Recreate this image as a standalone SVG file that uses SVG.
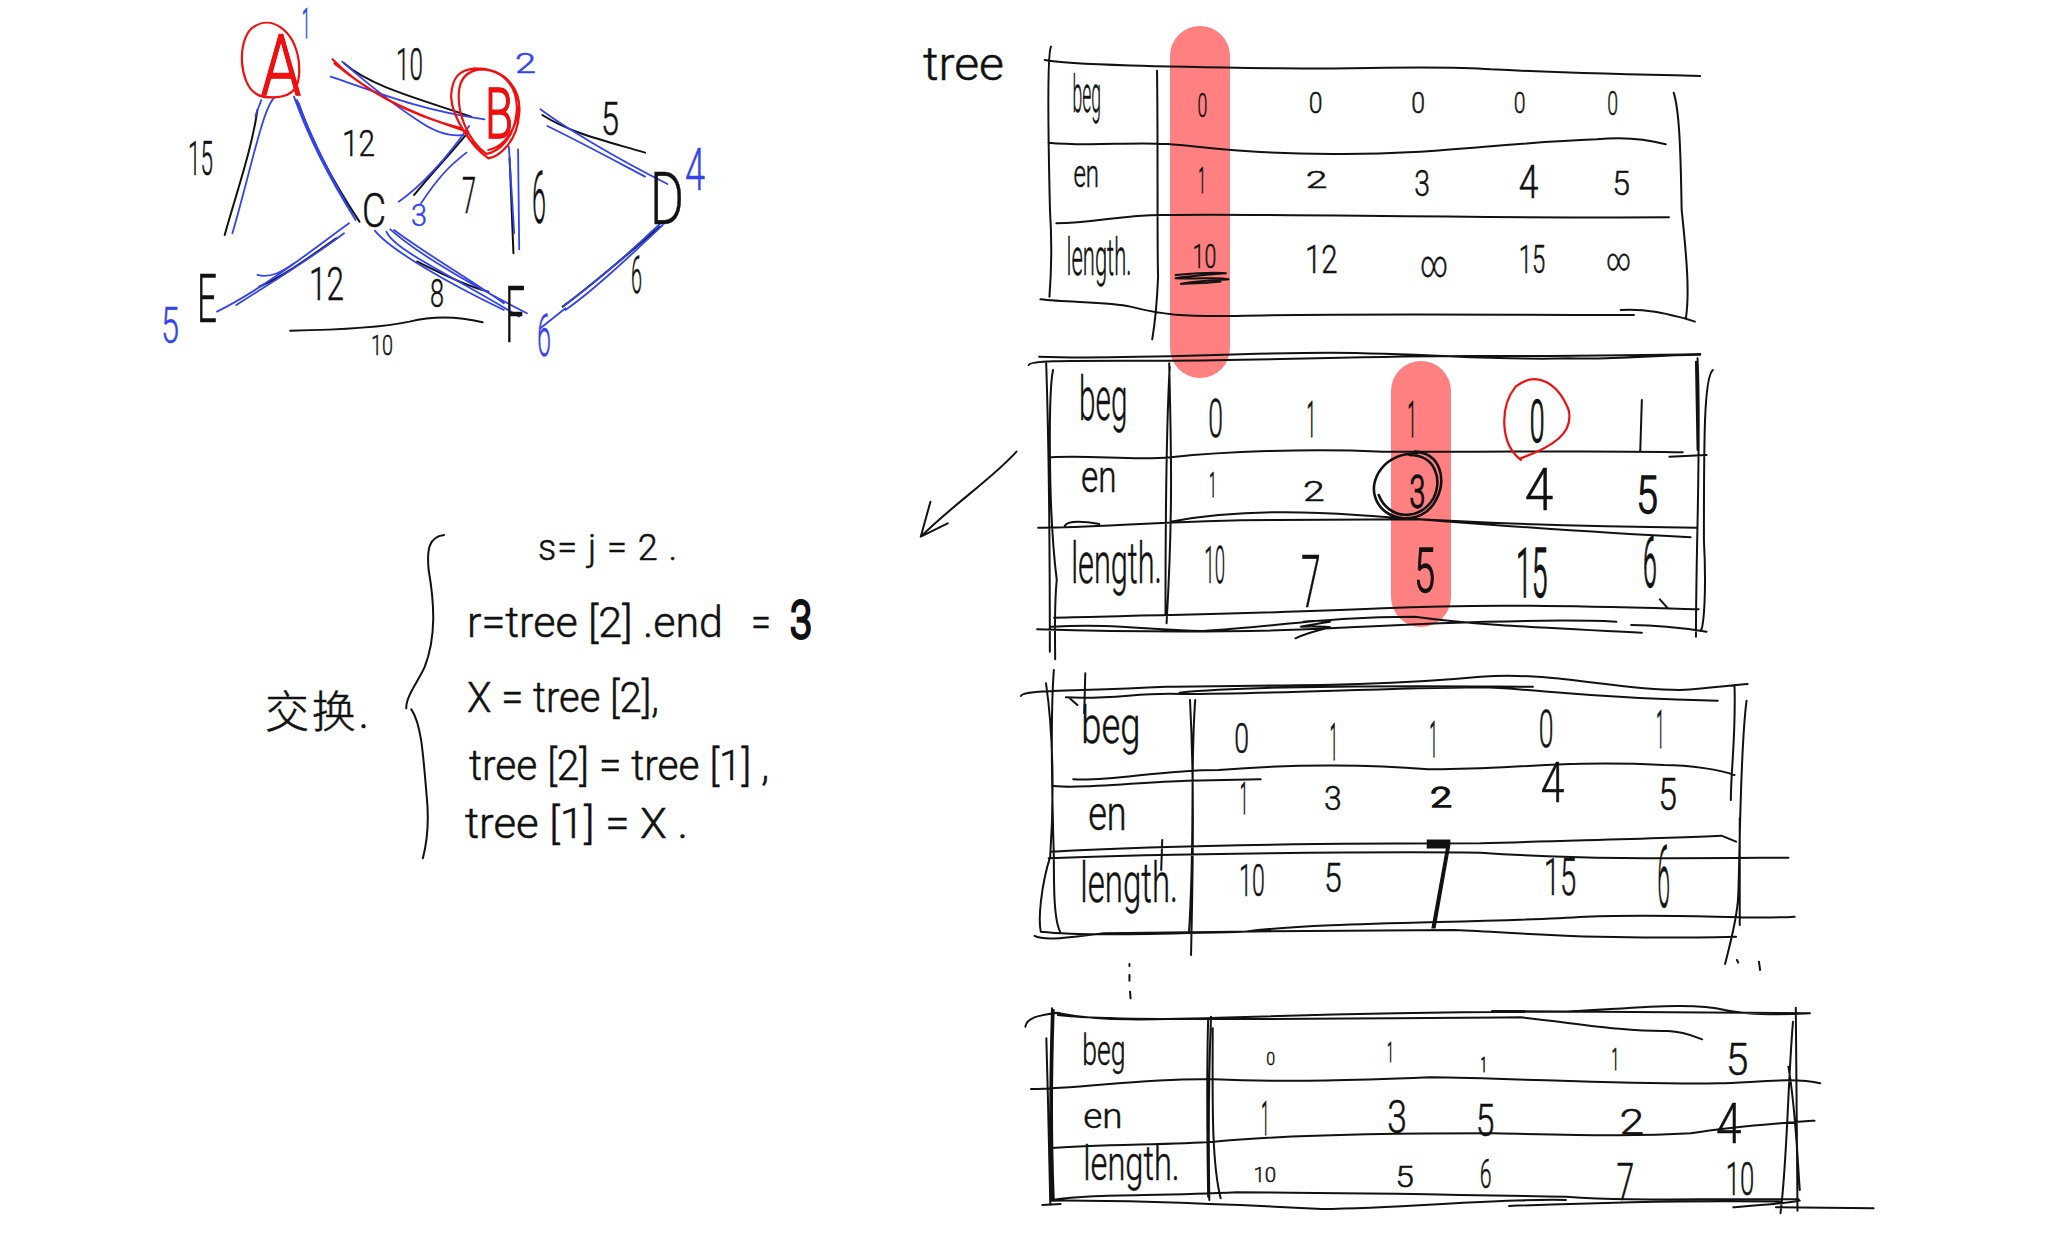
<svg xmlns="http://www.w3.org/2000/svg" width="2048" height="1235" viewBox="0 0 2048 1235">
<style>
path{fill:none;stroke-linecap:round;stroke-linejoin:round;vector-effect:non-scaling-stroke}
.k{stroke:#111;stroke-width:2}
.kt{stroke:#111;stroke-width:2.6}
.b{stroke:#3344ee;stroke-width:1.8}
.r{stroke:#f01010;stroke-width:2.2}
.hl{fill:#ff8080;stroke:none}
text{font-family:Roboto,"Noto Sans","Noto Sans CJK SC",sans-serif;font-weight:300;fill:#111;stroke:#111;stroke-width:.5;text-anchor:start}
.tb{fill:#3344ee;stroke:#3344ee}
.tr{fill:#f01010;stroke:#f01010;stroke-width:1.6}
.o{stroke-width:1.1}
.bo{stroke-width:1.4}
.bb{stroke-width:3}
</style>
<rect width="2048" height="1235" fill="#fff"/>
<g id="highlights">
<rect class="hl" x="1170" y="26" width="60" height="352" rx="30" ry="30"/>
<rect class="hl" x="1391" y="361" width="60" height="266" rx="30" ry="30"/>
</g>
<g id="connectors">
<g transform="translate(140,0) scale(.385,.3333)">
<path class="k" d="M305,330C290,450 250,580 220,705M412,310C450,440 510,560 570,665M530,190C600,260 720,295 860,350M850,400C800,470 750,530 712,585M960,475L970,760M1045,345C1120,400 1200,420 1312,458M1350,680C1280,750 1180,850 1098,920M510,715C430,780 370,830 310,860M720,785C780,820 850,860 905,875M390,992C500,990 620,985 700,965C770,945 830,950 890,967"/>
<path class="b" d="M350,292C320,320 290,500 240,700M315,300C310,320 300,340 300,350M400,290C440,420 500,550 560,660M408,300C450,430 510,560 555,650M525,185C560,220 640,300 720,360C770,400 810,410 840,405M495,230C600,270 720,330 895,358M855,378C800,470 730,560 672,605M848,458C800,500 770,540 730,610M958,440L972,700M982,448L985,748M1040,328C1100,380 1230,470 1370,552M1058,378C1150,430 1230,480 1312,530M1358,675C1280,760 1180,870 1105,930M1350,672C1270,760 1180,850 1100,918M1105,925L1040,985M543,670C470,730 330,860 200,935M530,700C450,770 340,850 250,915M305,825C340,835 370,815 400,790M650,688C720,760 870,860 1005,940M640,695C660,750 800,820 985,950M610,692C650,750 800,850 945,930M660,690C740,760 860,840 945,910"/>
<path class="r" d="M500,178C560,250 650,320 850,395M505,190C580,260 680,340 835,385"/>
</g>
</g>
<g id="graph-nodes">
<g id="node-A">
<text x="261" y="95" font-size="86" textLength="40" lengthAdjust="spacingAndGlyphs">A</text>
<text class="tr" x="261" y="95" font-size="86" textLength="40" lengthAdjust="spacingAndGlyphs">A</text>
<path class="r" transform="translate(140,0) scale(.385,.3333)" d="M300,280C260,250 250,130 290,85C340,40 400,90 412,180C420,260 400,290 350,292C330,292 310,292 300,280"/>
</g>
<g id="node-B">
<text x="485" y="138" font-size="70" textLength="28" lengthAdjust="spacingAndGlyphs">B</text>
<text class="tr" x="485" y="138" font-size="70" textLength="28" lengthAdjust="spacingAndGlyphs">B</text>
<path class="r" transform="translate(140,0) scale(.385,.3333)" d="M870,205C960,205 990,280 985,340C980,430 930,470 905,475C860,440 810,350 808,290C810,230 830,210 870,205M885,208C950,210 985,270 978,340C970,420 930,455 900,462C850,420 825,340 828,280C830,235 850,212 885,208M905,450C950,440 980,380 983,320"/>
</g>
<g id="node-C"><text x="362" y="227" font-size="48" textLength="24" lengthAdjust="spacingAndGlyphs">C</text></g>
<g id="node-D"><text x="650" y="224" font-size="72" textLength="34" lengthAdjust="spacingAndGlyphs">D</text></g>
<g id="node-E"><text x="197" y="322" font-size="66" textLength="20" lengthAdjust="spacingAndGlyphs">E</text></g>
<g id="node-F"><text x="505" y="342" font-size="78" textLength="20" lengthAdjust="spacingAndGlyphs">F</text></g>
</g>
<g id="edge-labels">
<text x="396" y="80" font-size="44" textLength="27" lengthAdjust="spacingAndGlyphs">10</text>
<text x="188" y="175" font-size="48" textLength="25" lengthAdjust="spacingAndGlyphs">15</text>
<text x="342" y="156" font-size="36" textLength="33" lengthAdjust="spacingAndGlyphs">12</text>
<text x="462" y="213" font-size="50" textLength="14" lengthAdjust="spacingAndGlyphs">7</text>
<text x="532" y="223" font-size="72" textLength="14" lengthAdjust="spacingAndGlyphs">6</text>
<text x="601" y="135" font-size="46" textLength="18" lengthAdjust="spacingAndGlyphs">5</text>
<text x="309" y="300" font-size="46" textLength="35" lengthAdjust="spacingAndGlyphs">12</text>
<text x="430" y="307" font-size="38" textLength="14" lengthAdjust="spacingAndGlyphs">8</text>
<text x="371" y="355" font-size="28" textLength="22" lengthAdjust="spacingAndGlyphs">10</text>
<text x="631" y="293" font-size="52" textLength="11" lengthAdjust="spacingAndGlyphs">6</text>
<text class="tb o" x="302" y="38" font-size="42" textLength="8" lengthAdjust="spacingAndGlyphs">1</text>
<text class="tb" x="515" y="73" font-size="28" textLength="21" lengthAdjust="spacingAndGlyphs">2</text>
<text class="tb" x="411" y="226" font-size="32" textLength="16" lengthAdjust="spacingAndGlyphs">3</text>
<text class="tb" x="685" y="190" font-size="60" textLength="20" lengthAdjust="spacingAndGlyphs">4</text>
<text class="tb" x="161" y="343" font-size="50" textLength="18" lengthAdjust="spacingAndGlyphs">5</text>
<text class="tb" x="537" y="356" font-size="60" textLength="14" lengthAdjust="spacingAndGlyphs">6</text>
</g>
<g id="swap-notes">
<path class="k" transform="translate(240,510) scale(.385,.3333)" d="M530,75C490,80 485,120 490,180C505,280 510,380 480,470C465,510 430,560 432,595M445,598C470,640 475,720 485,860C492,940 485,1000 475,1045"/>
<text x="265" y="728" font-size="44" textLength="104" lengthAdjust="spacing">交换.</text>
<text x="538" y="560" font-size="36" textLength="139" lengthAdjust="spacing">s= j = 2 .</text>
<text x="467" y="637" font-size="42" textLength="256" lengthAdjust="spacingAndGlyphs">r=tree [2] .end</text>
<text x="751" y="637" font-size="42" textLength="20" lengthAdjust="spacingAndGlyphs">=</text>
<text class="bb" x="790" y="638" font-size="52" textLength="22" lengthAdjust="spacingAndGlyphs">3</text>
<text x="467" y="712" font-size="42" textLength="192" lengthAdjust="spacingAndGlyphs">X = tree [2],</text>
<text x="469" y="780" font-size="42" textLength="300" lengthAdjust="spacingAndGlyphs">tree [2] = tree [1] ,</text>
<text x="465" y="838" font-size="42" textLength="223" lengthAdjust="spacingAndGlyphs">tree [1] = X .</text>
</g>
<g id="tree-label"><text x="923" y="80" font-size="46" textLength="81" lengthAdjust="spacingAndGlyphs">tree</text></g>
<g id="table-1" transform="matrix(.985 0 0 1 11.6 0)">
<path class="k" transform="translate(910,10) scale(.538,.3333)" d="M258,150C300,165 500,170 700,175C850,178 1000,165 1100,178C1250,190 1400,195 1495,198M270,110C262,130 265,400 268,600C272,700 270,800 267,860M470,182C472,400 470,700 472,800C470,880 465,950 461,988M265,398C340,410 420,395 490,402C560,410 620,430 800,432C1000,435 1100,400 1300,388C1360,378 1400,390 1430,403M280,640C350,640 400,615 480,615C700,610 1000,625 1436,622M250,868C300,878 380,875 420,890C480,915 520,920 620,918C800,910 1100,915 1370,915M1345,900C1400,895 1440,915 1465,925L1485,935M1445,248C1455,300 1458,400 1460,600C1470,750 1475,850 1468,925M505,795C540,790 580,785 600,790C560,795 520,800 505,805C545,808 590,800 605,808C570,812 530,815 515,822C550,820 580,818 590,815"/>
<text x="1077" y="112" font-size="52" textLength="29" lengthAdjust="spacingAndGlyphs">beg</text>
<text x="1078" y="187" font-size="38" textLength="26" lengthAdjust="spacingAndGlyphs">en</text>
<text x="1071" y="275" font-size="52" textLength="66" lengthAdjust="spacingAndGlyphs">length.</text>
<text x="1204" y="117" font-size="33" textLength="10" lengthAdjust="spacingAndGlyphs">0</text>
<text x="1317" y="113" font-size="30" textLength="14" lengthAdjust="spacingAndGlyphs">0</text>
<text x="1421" y="113" font-size="30" textLength="14" lengthAdjust="spacingAndGlyphs">0</text>
<text x="1525" y="113" font-size="30" textLength="12" lengthAdjust="spacingAndGlyphs">0</text>
<text x="1620" y="115" font-size="33" textLength="11" lengthAdjust="spacingAndGlyphs">0</text>
<text class="o" x="1205" y="193" font-size="36" textLength="7" lengthAdjust="spacingAndGlyphs">1</text>
<text x="1314" y="188" font-size="24" textLength="22" lengthAdjust="spacingAndGlyphs">2</text>
<text x="1424" y="196" font-size="36" textLength="16" lengthAdjust="spacingAndGlyphs">3</text>
<text x="1530" y="198" font-size="46" textLength="20" lengthAdjust="spacingAndGlyphs">4</text>
<text x="1625" y="195" font-size="34" textLength="18" lengthAdjust="spacingAndGlyphs">5</text>
<text x="1199" y="268" font-size="34" textLength="24" lengthAdjust="spacingAndGlyphs">10</text>
<text x="1313" y="273" font-size="38" textLength="33" lengthAdjust="spacingAndGlyphs">12</text>
<text x="1430" y="277" font-size="38" textLength="28" lengthAdjust="spacingAndGlyphs">∞</text>
<text x="1530" y="273" font-size="38" textLength="27" lengthAdjust="spacingAndGlyphs">15</text>
<text x="1619" y="270" font-size="30" textLength="25" lengthAdjust="spacingAndGlyphs">∞</text>
</g>
<g id="table-2" transform="matrix(.986 0 0 1 8.3 0)">
<g transform="translate(910,340) scale(.538,.3333)">
<path class="k" d="M232,75C235,60 300,62 500,62C700,62 900,45 1100,48C1250,48 1350,48 1498,42M252,50C400,60 600,40 800,38C1000,40 1100,62 1250,55C1350,60 1400,45 1498,44M265,65C270,300 272,700 272,935M278,90C270,150 268,500 285,720C280,800 282,900 282,958M497,70C500,300 505,500 492,850M498,80C490,300 490,600 490,825M275,352C350,345 430,362 500,352C600,335 750,325 900,335C1100,338 1300,330 1465,337M1440,350L1510,345M250,563C350,565 500,540 700,540L970,538C1100,550 1300,560 1490,563M300,558C305,540 340,545 365,552M500,545C600,515 720,510 850,525C1000,540 1200,570 1480,592M280,833C500,825 700,820 900,805C1100,790 1300,800 1495,808M248,868C400,875 600,880 800,865C1000,850 1200,835 1340,845M275,860C400,850 450,870 560,873C700,860 800,830 960,830C1050,850 1150,860 1388,878M1368,855C1420,855 1470,865 1510,875M750,845C770,842 790,840 800,845C780,850 760,855 745,860C770,860 790,858 800,862C780,870 755,880 735,895M1493,55C1500,300 1490,600 1490,890M1522,90C1505,110 1505,300 1505,600C1510,750 1505,850 1500,870M1490,65L1493,330M1422,778L1437,805M1388,180L1385,332"/>
<path class="kt" d="M960,335C1010,340 1020,420 1000,480C975,560 900,550 885,470C875,420 900,340 965,340M950,345C1000,345 1012,420 995,475C970,545 910,540 892,465"/>
<path class="r" d="M1160,360C1120,310 1120,200 1150,140C1190,90 1230,130 1250,210C1260,280 1220,320 1160,355L1175,345"/>
</g>
<text x="1086" y="420" font-size="62" textLength="49" lengthAdjust="spacingAndGlyphs">beg</text>
<text x="1088" y="492" font-size="44" textLength="36" lengthAdjust="spacingAndGlyphs">en</text>
<text x="1078" y="583" font-size="58" textLength="92" lengthAdjust="spacingAndGlyphs">length.</text>
<text x="1217" y="437" font-size="54" textLength="15" lengthAdjust="spacingAndGlyphs">0</text>
<text class="o" x="1317" y="437" font-size="50" textLength="9" lengthAdjust="spacingAndGlyphs">1</text>
<text class="o" x="1419" y="437" font-size="50" textLength="9" lengthAdjust="spacingAndGlyphs">1</text>
<text class="bo" x="1543" y="442" font-size="60" textLength="15" lengthAdjust="spacingAndGlyphs">0</text>
<text class="o" x="1218" y="497" font-size="36" textLength="7" lengthAdjust="spacingAndGlyphs">1</text>
<text x="1313" y="501" font-size="27" textLength="22" lengthAdjust="spacingAndGlyphs">2</text>
<text class="bo" x="1421" y="508" font-size="46" textLength="16" lengthAdjust="spacingAndGlyphs">3</text>
<text x="1538" y="510" font-size="60" textLength="29" lengthAdjust="spacingAndGlyphs">4</text>
<text class="bo" x="1651" y="513" font-size="52" textLength="22" lengthAdjust="spacingAndGlyphs">5</text>
<text x="1213" y="583" font-size="52" textLength="21" lengthAdjust="spacingAndGlyphs">10</text>
<text x="1311" y="607" font-size="72" textLength="20" lengthAdjust="spacingAndGlyphs">7</text>
<text class="bo" x="1426" y="592" font-size="62" textLength="21" lengthAdjust="spacingAndGlyphs">5</text>
<text class="bo" x="1529" y="597" font-size="68" textLength="32" lengthAdjust="spacingAndGlyphs">15</text>
<text class="bo" x="1658" y="587" font-size="70" textLength="14" lengthAdjust="spacingAndGlyphs">6</text>
</g>
<g id="step-arrow">
<path class="k" transform="translate(910,340) scale(.538,.3333)" d="M198,335C150,420 90,480 20,590M38,485L20,590L70,550"/>
</g>
<g id="table-3" transform="matrix(.986 0 0 1 13.5 0)">
<path class="k" transform="translate(1010,670) scale(.531,.3333)" d="M22,78C25,60 100,65 300,50C500,45 700,50 900,20C1050,5 1150,60 1280,60C1340,55 1380,45 1410,42M108,82C200,90 250,65 330,72C500,72 700,55 900,52C1000,55 1100,85 1353,92M325,68C500,40 900,50 1000,50M70,40C85,200 85,400 78,560C60,650 55,750 60,785M85,0C80,100 80,300 85,560C85,650 85,750 97,785M145,10L143,130M115,85L130,105M345,90C352,300 352,500 347,855M355,90C345,300 355,500 343,790M122,328C200,335 280,300 400,300C550,280 700,285 800,298C950,300 1050,270 1250,285C1300,285 1360,300 1385,315M85,348C150,358 250,335 340,332L480,328M80,545C300,525 600,520 900,520C1100,510 1250,505 1360,497L1388,515M75,565C300,550 700,545 900,548C1100,570 1300,565 1488,563M60,785C150,800 300,790 450,785C600,755 900,760 1100,740C1300,730 1400,750 1500,740M48,798C70,815 120,800 180,790C400,785 700,780 850,780C1000,790 1100,810 1388,800M1385,45C1388,200 1378,300 1378,390M1395,445L1395,765M1408,92C1395,250 1395,600 1392,680C1390,750 1375,830 1367,882M292,510L290,600"/>
<text x="1083" y="743" font-size="52" textLength="60" lengthAdjust="spacingAndGlyphs">beg</text>
<text x="1090" y="830" font-size="48" textLength="39" lengthAdjust="spacingAndGlyphs">en</text>
<text x="1082" y="902" font-size="56" textLength="99" lengthAdjust="spacingAndGlyphs">length.</text>
<text x="1238" y="753" font-size="42" textLength="15" lengthAdjust="spacingAndGlyphs">0</text>
<text class="o" x="1335" y="760" font-size="52" textLength="8" lengthAdjust="spacingAndGlyphs">1</text>
<text class="o" x="1436" y="757" font-size="50" textLength="8" lengthAdjust="spacingAndGlyphs">1</text>
<text x="1547" y="747" font-size="52" textLength="15" lengthAdjust="spacingAndGlyphs">0</text>
<text class="o" x="1666" y="748" font-size="53" textLength="8" lengthAdjust="spacingAndGlyphs">1</text>
<text class="o" x="1244" y="814" font-size="44" textLength="8" lengthAdjust="spacingAndGlyphs">1</text>
<text x="1329" y="810" font-size="33" textLength="18" lengthAdjust="spacingAndGlyphs">3</text>
<text class="bo" x="1437" y="807" font-size="27" textLength="22" lengthAdjust="spacingAndGlyphs">2</text>
<text x="1549" y="802" font-size="55" textLength="24" lengthAdjust="spacingAndGlyphs">4</text>
<text x="1668" y="810" font-size="45" textLength="19" lengthAdjust="spacingAndGlyphs">5</text>
<text x="1243" y="896" font-size="44" textLength="26" lengthAdjust="spacingAndGlyphs">10</text>
<text x="1329" y="892" font-size="41" textLength="18" lengthAdjust="spacingAndGlyphs">5</text>
<text class="bb" x="1432" y="927" font-size="120" textLength="27" lengthAdjust="spacingAndGlyphs">7</text>
<text x="1552" y="895" font-size="52" textLength="33" lengthAdjust="spacingAndGlyphs">15</text>
<text x="1667" y="907" font-size="87" textLength="13" lengthAdjust="spacingAndGlyphs">6</text>
</g>
<g id="ellipsis">
<path class="k" transform="translate(1010,960) scale(.577,.3333)" d="M207,12L207,18M207,45L207,62M208,95L209,115M1260,0L1262,8M1298,5L1300,30"/>
</g>
<g id="table-4" transform="matrix(.984 0 0 1 15.6 0)">
<path class="k" transform="translate(1010,960) scale(.577,.3333)" d="M28,200C30,175 50,165 85,158C150,185 250,180 400,172C600,160 800,155 980,155C1100,145 1200,125 1260,150C1300,165 1350,165 1410,160M850,153L1410,160M85,165C150,180 300,180 900,172C1000,190 1080,215 1160,213C1190,215 1210,232 1220,238M75,145C72,300 70,500 75,720M65,235C68,400 70,600 72,735M78,150C75,300 73,500 78,715M355,170C352,300 350,500 352,720M358,205C358,400 355,600 372,715M350,175C348,300 348,500 350,710M38,387C130,385 250,352 360,358C500,368 620,360 740,352C900,355 1100,375 1250,370C1300,370 1380,350 1428,370M70,565C150,552 280,555 360,545C450,530 600,520 850,520C1000,525 1100,530 1200,520C1280,498 1350,490 1418,482M75,720C150,700 250,710 400,697C600,697 800,705 980,710C1100,725 1200,715 1390,718M58,735L90,732M72,722C200,720 350,730 550,747C700,745 850,715 980,720M880,738C1000,730 1200,720 1360,725M1275,742C1330,735 1370,730 1392,722M1350,742L1522,745M1385,143L1388,752M1380,185C1370,400 1370,600 1358,760M1372,320C1385,450 1388,600 1392,690"/>
<text x="1084" y="1065" font-size="42" textLength="44" lengthAdjust="spacingAndGlyphs">beg</text>
<text x="1085" y="1128" font-size="36" textLength="40" lengthAdjust="spacingAndGlyphs">en</text>
<text x="1085" y="1180" font-size="48" textLength="98" lengthAdjust="spacingAndGlyphs">length.</text>
<text x="1271" y="1065" font-size="18" textLength="9" lengthAdjust="spacingAndGlyphs">0</text>
<text class="o" x="1394" y="1062" font-size="27" textLength="6" lengthAdjust="spacingAndGlyphs">1</text>
<text class="o" x="1489" y="1072" font-size="21" textLength="6" lengthAdjust="spacingAndGlyphs">1</text>
<text class="o" x="1622" y="1070" font-size="31" textLength="7" lengthAdjust="spacingAndGlyphs">1</text>
<text x="1738" y="1075" font-size="45" textLength="23" lengthAdjust="spacingAndGlyphs">5</text>
<text class="o" x="1266" y="1135" font-size="49" textLength="8" lengthAdjust="spacingAndGlyphs">1</text>
<text x="1394" y="1133" font-size="46" textLength="20" lengthAdjust="spacingAndGlyphs">3</text>
<text x="1484" y="1136" font-size="44" textLength="19" lengthAdjust="spacingAndGlyphs">5</text>
<text x="1630" y="1134" font-size="35" textLength="25" lengthAdjust="spacingAndGlyphs">2</text>
<text x="1728" y="1143" font-size="56" textLength="26" lengthAdjust="spacingAndGlyphs">4</text>
<text x="1258" y="1182" font-size="20" textLength="23" lengthAdjust="spacingAndGlyphs">10</text>
<text x="1402" y="1187" font-size="30" textLength="19" lengthAdjust="spacingAndGlyphs">5</text>
<text x="1488" y="1188" font-size="40" textLength="12" lengthAdjust="spacingAndGlyphs">6</text>
<text x="1627" y="1200" font-size="52" textLength="18" lengthAdjust="spacingAndGlyphs">7</text>
<text x="1738" y="1195" font-size="46" textLength="29" lengthAdjust="spacingAndGlyphs">10</text>
</g>
</svg>
